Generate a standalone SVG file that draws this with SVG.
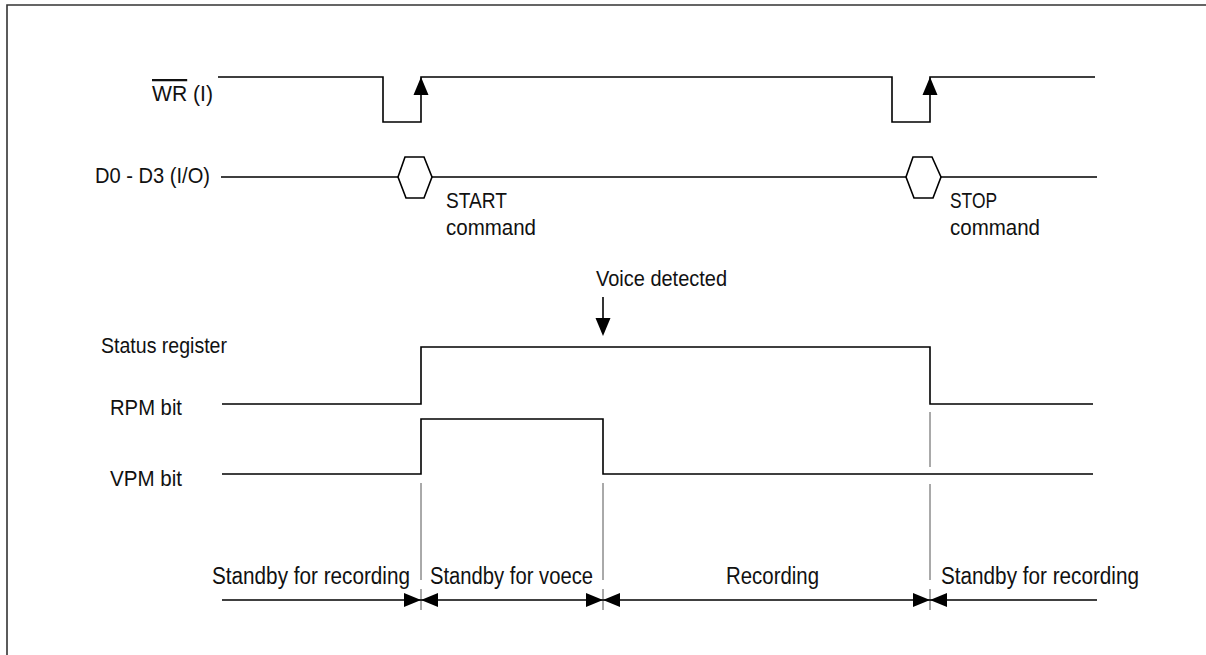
<svg xmlns="http://www.w3.org/2000/svg" width="1206" height="655" viewBox="0 0 1206 655">
<style>
text{font-family:"Liberation Sans",Arial,sans-serif;font-size:22.5px;fill:#111}
.b{font-size:23px}
.w{fill:none;stroke:#000;stroke-width:1.6}
.g{fill:none;stroke:#555;stroke-width:1}
.ah{fill:#000}
</style>
<rect width="1206" height="655" fill="#fff"/>
<path d="M7,655 V5 H1206" fill="none" stroke="#333" stroke-width="1.6"/>
<g id="labels">
<text x="152" y="101" textLength="61" lengthAdjust="spacingAndGlyphs"><tspan style="text-decoration:overline">WR</tspan> (I)</text>
<text x="95" y="183" textLength="115" lengthAdjust="spacingAndGlyphs">D0 - D3 (I/O)</text>
<text x="101" y="353" textLength="126" lengthAdjust="spacingAndGlyphs">Status register</text>
<text x="110" y="415" textLength="72" lengthAdjust="spacingAndGlyphs">RPM bit</text>
<text x="110" y="486" textLength="72" lengthAdjust="spacingAndGlyphs">VPM bit</text>
</g>
<g id="wr">
<path class="w" d="M218,77 H383 V122 H421 V77 H892 V122 H930 V77 H1095"/>
<path class="ah" d="M421,77 L413.5,95 H428.5 Z"/>
<path class="ah" d="M930,77 L922.5,95 H937.5 Z"/>
</g>
<g id="data">
<path class="w" d="M221,177 H398 M432,177 H906 M941,177 H1097"/>
<path class="w" d="M398,177 L405,157 H424 L432,177 L424,198 H406 Z"/>
<path class="w" d="M906,177 L913,157 H932 L941,177 L933,198 H914 Z"/>
<text x="446" y="208" textLength="61" lengthAdjust="spacingAndGlyphs">START</text>
<text x="446" y="235" textLength="90" lengthAdjust="spacingAndGlyphs">command</text>
<text x="950" y="208" textLength="47" lengthAdjust="spacingAndGlyphs">STOP</text>
<text x="950" y="235" textLength="90" lengthAdjust="spacingAndGlyphs">command</text>
</g>
<g id="voice">
<text x="596" y="286" textLength="131" lengthAdjust="spacingAndGlyphs">Voice detected</text>
<path class="w" d="M603,297 V320"/>
<path class="ah" d="M603,336 L595.5,318 H610.5 Z"/>
</g>
<g id="rpm">
<path class="w" d="M222,404 H421 V347 H930 V404 H1093"/>
</g>
<g id="vpm">
<path class="w" d="M222,474 H421 V419 H603 V474 H1093"/>
</g>
<g id="connectors">
<path class="g" d="M421,483 V580 M421,589 V610 M603,483 V580 M603,589 V610 M930,412 V467 M930,484 V580 M930,589 V610"/>
<path class="w" d="M222,600 H1097"/>
<path class="ah" d="M421,600 L404,593 V607 Z M421,600 L438,593 V607 Z"/>
<path class="ah" d="M603,600 L586,593 V607 Z M603,600 L620,593 V607 Z"/>
<path class="ah" d="M930,600 L913,593 V607 Z M930,600 L947,593 V607 Z"/>
</g>
<g id="phases">
<text class="b" x="212" y="584" textLength="198" lengthAdjust="spacingAndGlyphs">Standby for recording</text>
<text class="b" x="430" y="584" textLength="163" lengthAdjust="spacingAndGlyphs">Standby for voece</text>
<text class="b" x="726" y="584" textLength="93" lengthAdjust="spacingAndGlyphs">Recording</text>
<text class="b" x="941" y="584" textLength="198" lengthAdjust="spacingAndGlyphs">Standby for recording</text>
</g>
</svg>
